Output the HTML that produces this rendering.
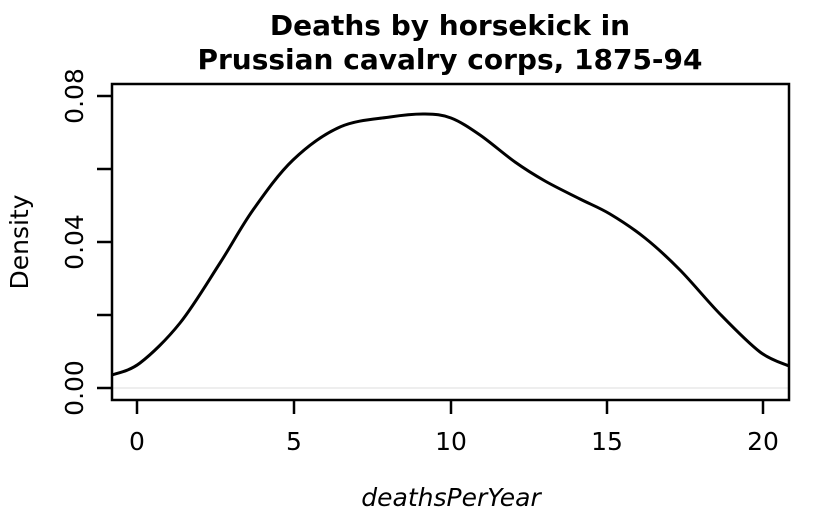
<!DOCTYPE html>
<html><head><meta charset="utf-8"><style>
html,body{margin:0;padding:0;background:#fff;}
svg{display:block;font-family:"DejaVu Sans","Liberation Sans",sans-serif;}
</style></head><body>
<svg id="s" width="819" height="512" viewBox="0 0 819 512" xmlns="http://www.w3.org/2000/svg">
<rect width="819" height="512" fill="#fff"/>
<text x="450" y="35" text-anchor="middle" font-size="28" font-weight="bold">Deaths by horsekick in</text>
<text x="450" y="69" text-anchor="middle" font-size="28" font-weight="bold">Prussian cavalry corps, 1875-94</text>
<line x1="112" y1="388" x2="789" y2="388" stroke="#ddd" stroke-width="1"/>
<rect x="112" y="84" width="677" height="316" fill="none" stroke="#000" stroke-width="2.5"/>
<g stroke="#000" stroke-width="2.5">
<line x1="97" y1="96" x2="112" y2="96"/><line x1="97" y1="169" x2="112" y2="169"/>
<line x1="97" y1="242" x2="112" y2="242"/><line x1="97" y1="315" x2="112" y2="315"/>
<line x1="97" y1="388" x2="112" y2="388"/>
<line x1="137" y1="400" x2="137" y2="414"/><line x1="294" y1="400" x2="294" y2="414"/>
<line x1="451" y1="400" x2="451" y2="414"/><line x1="607" y1="400" x2="607" y2="414"/>
<line x1="763" y1="400" x2="763" y2="414"/>
</g>
<g font-size="25" text-anchor="middle">
<text transform="translate(83,96) rotate(-90)">0.08</text>
<text transform="translate(83,242) rotate(-90)">0.04</text>
<text transform="translate(83,388) rotate(-90)">0.00</text>
<text x="137" y="450">0</text><text x="294" y="450">5</text><text x="451" y="450">10</text>
<text x="607" y="450">15</text><text x="763" y="450">20</text>
<text transform="translate(28,242) rotate(-90)">Density</text>
<text x="451" y="506" font-style="italic">deathsPerYear</text>
</g>
<path id="c" fill="none" stroke="#000" stroke-width="3"/>
</svg>
<script>
var p=[[112,375],[140,363],[180,323],[220,263],[253,210],[293,160],[340,127],[390,117],[425,114],[451,118],[480,135],[515,162],[545,181],[580,199],[610,214],[645,238],[680,270],[720,314],[760,352],[789,366]];
var d="M"+p[0].join(",");
for(var i=0;i<p.length-1;i++){var a=p[i-1]||p[i],b=p[i],c=p[i+1],e=p[i+2]||c;
d+=" C"+(b[0]+(c[0]-a[0])/6)+","+(b[1]+(c[1]-a[1])/6)+" "+(c[0]-(e[0]-b[0])/6)+","+(c[1]-(e[1]-b[1])/6)+" "+c[0]+","+c[1];}
document.getElementById("c").setAttribute("d",d);
</script>
</body></html>
